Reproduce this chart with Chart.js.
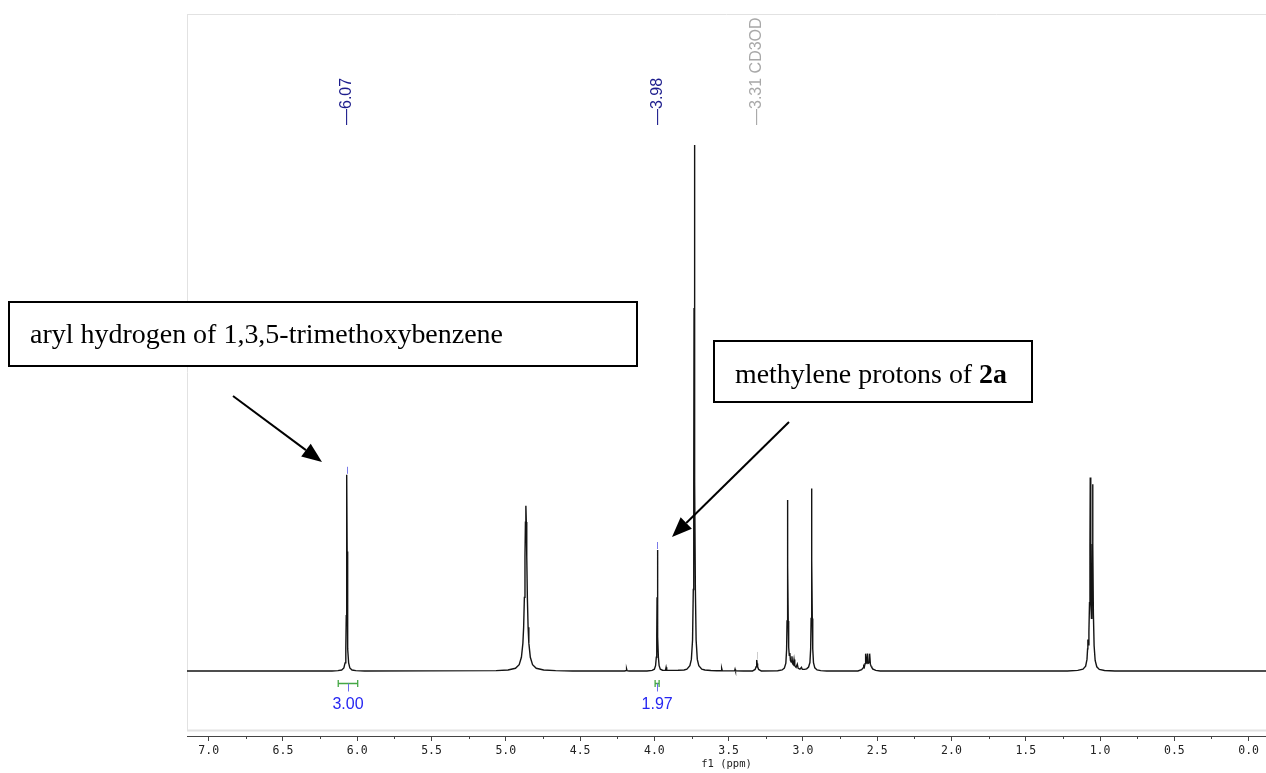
<!DOCTYPE html>
<html>
<head>
<meta charset="utf-8">
<title>1H NMR</title>
<script src="https://cdn.jsdelivr.net/npm/chart.js@4.4.1/dist/chart.umd.min.js"></script>
<style>
	html, body { margin: 0; padding: 0; background: #fff; }
	#wrap { width: 1266px; height: 773px; }
</style>
</head>
<body>
<div id="wrap"><canvas id="nmr" width="1266" height="773"></canvas></div>
<script>
// 1H spectrum in CD3OD: chemical shift (ppm) and intensity, low field first
const shift = [
	7.15, 6.30, 6.17,
	// aryl H of 1,3,5-trimethoxybenzene
	6.13, 6.105, 6.09, 6.082, 6.077, 6.074, 6.072, 6.07, 6.068, 6.066, 6.063, 6.058, 6.05, 6.035, 6.01, 5.95,
	// exchangeable OH
	5.065, 4.985, 4.935, 4.91, 4.895, 4.885, 4.88, 4.875, 4.871, 4.868, 4.865, 4.862, 4.859, 4.855, 4.85, 4.845, 4.835, 4.82, 4.795, 4.745, 4.665, 4.55,
	4.20, 4.19, 4.187, 4.184, 4.17,
	// CH2 of 2a
	4.05, 4.015, 4.0, 3.992, 3.987, 3.984, 3.982, 3.98, 3.978, 3.976, 3.973, 3.968, 3.96, 3.945, 3.925, 3.921, 3.917, 3.88, 3.84,
	// OMe
	3.80, 3.781, 3.761, 3.751, 3.743, 3.738, 3.735, 3.733, 3.731, 3.729, 3.727, 3.724, 3.719, 3.711, 3.701, 3.681, 3.66, 3.62, 3.58,
	3.55, 3.547, 3.543, 3.50, 3.46, 3.457, 3.454, 3.40,
	// solvent
	3.34, 3.322, 3.315, 3.312, 3.31, 3.308, 3.305, 3.298, 3.28,
	3.17, 3.14, 3.125, 3.115, 3.11, 3.107, 3.105, 3.103, 3.101, 3.099, 3.096, 3.092, 3.088, 3.084, 3.079, 3.074, 3.07, 3.065, 3.06, 3.055, 3.046, 3.038, 3.032, 3.02, 3.01, 3.004, 2.99, 2.975,
	2.962, 2.953, 2.948, 2.945, 2.943, 2.941, 2.939, 2.937, 2.934, 2.929, 2.92, 2.905, 2.88, 2.84,
	2.63, 2.605, 2.595, 2.591, 2.587, 2.582, 2.578, 2.573, 2.569, 2.565, 2.56, 2.555, 2.551, 2.546, 2.541, 2.537, 2.528, 2.51, 2.48,
	1.22, 1.15, 1.115, 1.097, 1.088, 1.084, 1.082, 1.079, 1.075, 1.071, 1.068, 1.066, 1.064, 1.061, 1.058, 1.055, 1.052, 1.05, 1.048, 1.045, 1.04, 1.033, 1.022, 1.005, 0.97, 0.90,
	-0.12
];
const intensity = [
	0, 0, 0,
	0.06, 0.19, 0.57, 1.55, 4.2, 10.5, 22.7, 37.3, 22.7, 10.5, 4.2, 1.55, 0.57, 0.19, 0.06, 0,
	0.06, 0.18, 0.51, 1.2, 2.6, 5.3, 8.3, 14.0, 21.7, 28.3, 31.4, 28.3, 21.7, 14.0, 8.3, 5.3, 2.6, 1.2, 0.51, 0.18, 0.06, 0,
	0, 0.08, 0.4, 0.08, 0,
	0, 0.12, 0.35, 1.0, 2.6, 6.5, 14, 23, 14, 6.5, 2.6, 1.0, 0.35, 0.15, 0.12, 0.7, 0.13, 0.12, 0.14,
	0.2, 0.36, 1.0, 2.2, 5.9, 15.5, 36, 69, 100, 69, 36, 15.5, 5.9, 2.2, 1.0, 0.36, 0.2, 0.1, 0.05,
	0.05, 0.5, 0.05, 0.03, 0.03, 0.35, 0.03, 0,
	0, 0.3, 0.8, 1.4, 2.1, 1.4, 0.8, 0.3, 0,
	0.05, 0.2, 0.55, 1.5, 4.0, 9.5, 20, 32.5, 20, 9.5, 4.5, 3.0, 3.4, 2.0, 1.7, 2.8, 1.4, 1.2, 2.2, 1.0, 0.7, 1.3, 0.5, 0.35, 0.7, 0.3, 0.3, 0.4,
	0.75, 1.6, 4.2, 10, 21, 34.7, 21, 10, 4.2, 1.6, 0.6, 0.2, 0.07, 0,
	0, 0.25, 0.6, 0.9, 0.7, 1.4, 3.3, 1.5, 1.6, 3.3, 1.5, 1.6, 3.3, 1.3, 0.9, 0.7, 0.35, 0.12, 0,
	0, 0.12, 0.35, 0.9, 2.2, 4.2, 6.0, 5.0, 7.5, 13, 24, 36.8, 24, 13, 10, 13, 24, 35.5, 24, 11, 4.8, 2.0, 0.8, 0.3, 0.1, 0,
	0
];

// peak picks printed above the trace
const pickShift = [6.07, 3.98, 3.31];
const pickText = ['6.07', '3.98', '3.31 CD3OD'];

// integrals under the trace
const integralFrom = [6.128, 3.995];
const integralTo = [5.997, 3.968];
const integralValue = [3.00, 1.97];

// callout boxes
const noteText = ['aryl hydrogen of 1,3,5-trimethoxybenzene', 'methylene protons of '];
const noteBold = ['', '2a'];

const pickColor = ['#1c1c8c', '#1c1c8c', '#a8a8a8'];
const markColor = ['#7a7ae8', '#7a7ae8', '#cccccc'];
const notePlace = [
	{box: [9, 302, 628, 64], textX: 30, textY: 343, textW: 473, from: [233, 396], to: [322, 462]},
	{box: [714, 341, 318, 61], textX: 735, textY: 383, textW: 272, from: [789, 422], to: [672, 537]}
];
const serif = '28px "Liberation Serif", "Times New Roman", serif';

function peakTop(ppm){
	let best = 0;
	for (let i = 0; i < shift.length; i++){
		if (Math.abs(shift[i] - ppm) < 0.004 && intensity[i] > best) best = intensity[i];
	}
	return best;
}

function arrow(ctx, x1, y1, x2, y2){
	const a = Math.atan2(y2 - y1, x2 - x1);
	const len = 20, half = 8;
	const bx = x2 - len * Math.cos(a), by = y2 - len * Math.sin(a);
	ctx.lineWidth = 2;
	ctx.beginPath();
	ctx.moveTo(x1, y1);
	ctx.lineTo(bx, by);
	ctx.stroke();
	ctx.beginPath();
	ctx.moveTo(x2, y2);
	ctx.lineTo(bx + half * Math.sin(a), by - half * Math.cos(a));
	ctx.lineTo(bx - half * Math.sin(a), by + half * Math.cos(a));
	ctx.closePath();
	ctx.fill();
}

// serif caption fitted to a given width
function noteLine(ctx, parts, x, y, width){
	let total = 0;
	parts.forEach(p =>{
		ctx.font = (p.bold ? 'bold ' : '') + serif;
		p.w = ctx.measureText(p.text).width;
		total += p.w;
	});
	ctx.save();
	ctx.translate(x, y);
	ctx.scale(width / total, 1);
	let cx = 0;
	parts.forEach(p =>{
		ctx.font = (p.bold ? 'bold ' : '') + serif;
		ctx.fillText(p.text, cx, 0);
		cx += p.w;
	});
	ctx.restore();
}

const decor = {
	id: 'decor',
	beforeDatasetsDraw(chart){
		const {ctx, chartArea: a} = chart;
		ctx.save();
		ctx.strokeStyle = '#e2e2e2';
		ctx.lineWidth = 1;
		ctx.beginPath();
		ctx.moveTo(a.left, a.top + 0.5);
		ctx.lineTo(a.right, a.top + 0.5);
		ctx.moveTo(a.left + 0.5, a.top);
		ctx.lineTo(a.left + 0.5, a.bottom - 5);
		ctx.stroke();
		ctx.lineWidth = 2;
		ctx.beginPath();
		ctx.moveTo(a.left, a.bottom - 5.5);
		ctx.lineTo(a.right, a.bottom - 5.5);
		ctx.stroke();
		ctx.restore();
	},
	afterDraw(chart){
		const {ctx, chartArea: a} = chart;
		const xs = chart.scales.x, ys = chart.scales.y;
		ctx.save();

		// minor ticks between the labelled ones
		ctx.strokeStyle = '#444';
		ctx.lineWidth = 1;
		ctx.beginPath();
		for (let v = 0.25; v < xs.max; v += 0.5){
			const px = Math.round(xs.getPixelForValue(v)) + 0.5;
			ctx.moveTo(px, a.bottom);
			ctx.lineTo(px, a.bottom + 3);
		}
		ctx.stroke();

		// peak picks
		pickShift.forEach((ppm, i) =>{
			const px = xs.getPixelForValue(ppm);
			const top = ys.getPixelForValue(peakTop(ppm));
			ctx.strokeStyle = markColor[i];
			ctx.beginPath();
			ctx.moveTo(Math.round(px) + 0.5, top - 8);
			ctx.lineTo(Math.round(px) + 0.5, top - 1);
			ctx.stroke();

			ctx.save();
			ctx.translate(px, a.top + 111);
			ctx.rotate(-Math.PI / 2);
			ctx.fillStyle = pickColor[i];
			ctx.font = '16px "Liberation Sans"';
			ctx.textAlign = 'left';
			ctx.textBaseline = 'middle';
			ctx.fillText('\u2014' + pickText[i], 0, 0);
			ctx.restore();
		});

		// integrals
		const base = ys.getPixelForValue(0);
		integralFrom.forEach((from, i) =>{
			const x1 = xs.getPixelForValue(from), x2 = xs.getPixelForValue(integralTo[i]);
			const mid = (x1 + x2) / 2;
			const y = Math.round(base + 12) + 0.5;
			ctx.strokeStyle = '#45a845';
			ctx.lineWidth = 1.3;
			ctx.beginPath();
			ctx.moveTo(x1, y);
			ctx.lineTo(x2, y);
			ctx.moveTo(x1, y - 3.5);
			ctx.lineTo(x1, y + 3.5);
			ctx.moveTo(x2, y - 3.5);
			ctx.lineTo(x2, y + 3.5);
			ctx.stroke();
			ctx.strokeStyle = '#6a6af0';
			ctx.lineWidth = 1;
			ctx.beginPath();
			ctx.moveTo(Math.round(mid) + 0.5, y);
			ctx.lineTo(Math.round(mid) + 0.5, y + 8);
			ctx.stroke();
			ctx.fillStyle = '#2626f2';
			ctx.font = '16px "Liberation Sans"';
			ctx.textAlign = 'center';
			ctx.textBaseline = 'middle';
			ctx.fillText(integralValue[i].toFixed(2), mid, base + 34);
		});

		// callouts
		notePlace.forEach((n, i) =>{
			ctx.fillStyle = '#fff';
			ctx.fillRect(n.box[0], n.box[1], n.box[2], n.box[3]);
			ctx.strokeStyle = '#000';
			ctx.lineWidth = 2;
			ctx.strokeRect(n.box[0], n.box[1], n.box[2], n.box[3]);
			ctx.fillStyle = '#000';
			ctx.textAlign = 'left';
			ctx.textBaseline = 'alphabetic';
			const parts = [{text: noteText[i]}];
			if (noteBold[i]) parts.push({text: noteBold[i], bold: true});
			noteLine(ctx, parts, n.textX, n.textY, n.textW);
			arrow(ctx, n.from[0], n.from[1], n.to[0], n.to[1]);
		});
		ctx.restore();
	}
};

new Chart(document.getElementById('nmr'), {
	type: 'line',
	data: {
		datasets: [{
			data: shift.map((x, i) => ({x: x, y: intensity[i]})),
			borderColor: '#141414',
			borderWidth: 1.4,
			pointRadius: 0,
			tension: 0,
			fill: false
		}]
	},
	options: {
		responsive: false,
		animation: false,
		devicePixelRatio: 1,
		layout: {padding: {left: 187, top: 14, right: 0, bottom: 0}},
		plugins: {legend: {display: false}, tooltip: {enabled: false}},
		scales: {
			x: {
				type: 'linear',
				reverse: true,
				min: -0.117,
				max: 7.146,
				border: {color: '#444', width: 1},
				grid: {drawOnChartArea: false, drawTicks: true, tickLength: 5, color: '#444'},
				ticks: {
					stepSize: 0.5,
					includeBounds: false,
					autoSkip: false,
					maxRotation: 0,
					padding: 3,
					color: '#222',
					font: {family: '"DejaVu Sans Mono"', size: 11.5},
					callback: v => v.toFixed(1)
				},
				title: {
					display: true,
					text: 'f1 (ppm)',
					color: '#222',
					padding: {top: 0, bottom: 2},
					font: {family: '"DejaVu Sans Mono"', size: 10.5}
				},
				afterFit(s){ s.height = 37; }
			},
			y: {
				display: false,
				min: -12.36,
				max: 124.9
			}
		}
	},
	plugins: [decor]
});
</script>
</body>
</html>
